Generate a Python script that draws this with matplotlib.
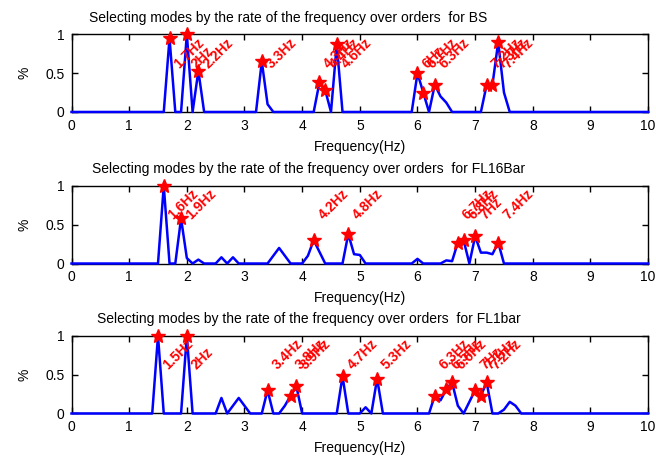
"""
Mode selection plots: rate of frequency over orders for BS, FL16Bar, FL1bar
"""

import numpy as np
import matplotlib
matplotlib.use('Agg')
import matplotlib.pyplot as plt

plt.rcParams['font.family'] = ['Liberation Sans', 'DejaVu Sans']

# frequency grid (Hz)
freq = np.round(np.arange(0, 10.001, 0.1), 1)

# nonzero points of each curve
bs_f = [1.7, 2.0, 2.2, 3.3, 3.4, 4.3, 4.4, 4.6, 6.0, 6.1, 6.3, 6.4, 6.5,
        7.2, 7.3, 7.4, 7.5]
bs_v = [0.95, 1.0, 0.53, 0.65, 0.1, 0.38, 0.28, 0.87, 0.5, 0.25, 0.35, 0.2, 0.12,
        0.35, 0.35, 0.9, 0.25]
bs_peaks = [1.7, 2.0, 2.2, 3.3, 4.3, 4.4, 4.6, 6.0, 6.1, 6.3, 7.2, 7.3, 7.4]

fl16_f = [1.6, 1.9, 2.0, 2.2, 2.6, 2.8, 3.5, 3.6, 3.7, 4.1, 4.2, 4.3,
          4.8, 4.9, 5.0, 6.0, 6.5, 6.6, 6.7, 6.8, 7.0, 7.1, 7.2, 7.3, 7.4]
fl16_v = [1.0, 0.58, 0.07, 0.05, 0.08, 0.08, 0.1, 0.2, 0.1, 0.1, 0.3, 0.15,
          0.38, 0.12, 0.11, 0.06, 0.04, 0.03, 0.27, 0.3, 0.35, 0.14, 0.14, 0.12, 0.27]
fl16_peaks = [1.6, 1.9, 4.2, 4.8, 6.7, 6.8, 7.0, 7.4]

fl1_f = [1.5, 2.0, 2.6, 2.8, 2.9, 3.0, 3.4, 3.7, 3.8, 3.9, 4.7, 5.1, 5.3,
         6.3, 6.4, 6.5, 6.6, 6.7, 6.9, 7.0, 7.1, 7.2, 7.5, 7.6, 7.7]
fl1_v = [1.0, 1.0, 0.2, 0.1, 0.2, 0.1, 0.3, 0.1, 0.23, 0.35, 0.48, 0.08, 0.45,
         0.23, 0.17, 0.31, 0.4, 0.1, 0.15, 0.3, 0.23, 0.4, 0.05, 0.15, 0.1]
fl1_peaks = [1.5, 2.0, 3.4, 3.8, 3.9, 4.7, 5.3, 6.3, 6.5, 6.6, 7.0, 7.1, 7.2]

names = ['BS', 'FL16Bar', 'FL1bar']


def curve(fs, vs):
    y = np.zeros_like(freq)
    for f, v in zip(fs, vs):
        y[np.isclose(freq, f)] = v
    return y


panels = [(bs_f, bs_v, bs_peaks), (fl16_f, fl16_v, fl16_peaks), (fl1_f, fl1_v, fl1_peaks)]
bottoms = [0.755, 0.4234, 0.0952]
title_x = [0.376, 0.411, 0.4125]   # titles sit left of the axes centre in the original

fig = plt.figure(figsize=(6.56, 4.57), dpi=100)

for (fs, vs, peaks), name, b, tx in zip(panels, names, bottoms, title_x):
    ax = fig.add_axes([0.109, b, 0.879, 0.170])
    y = curve(fs, vs)
    ax.plot(freq, y, color='blue', linewidth=1.8, clip_on=False, zorder=3)
    for p in peaks:
        pv = y[np.isclose(freq, p)][0]
        ax.plot(p, pv, marker='*', color='red', markersize=10, clip_on=False, zorder=4)
        ax.text(p + 0.12, 0.59, f'{p:g}Hz', color='red', fontsize=10, fontweight='bold',
                rotation=45, rotation_mode='anchor', ha='left', va='center')
    ax.set_xlim(0, 10)
    ax.set_ylim(0, 1)
    ax.set_xticks(range(11))
    ax.set_yticks([0, 0.5, 1])
    ax.set_yticklabels(['0', '0.5', '1'])
    ax.tick_params(direction='in', top=True, right=True, length=4, width=1,
                   labelsize=10, pad=5)
    for s in ax.spines.values():
        s.set_linewidth(1)
    t = ax.set_title(f'Selecting modes by the rate of the frequency over orders  for {name}',
                     fontsize=10, pad=9)
    t.set_x(tx)
    ax.set_xlabel('Frequency(Hz)', fontsize=10, labelpad=5)
    ax.set_ylabel('%', fontsize=10, labelpad=10)

fig.savefig('out.png', dpi=100, facecolor='white')
